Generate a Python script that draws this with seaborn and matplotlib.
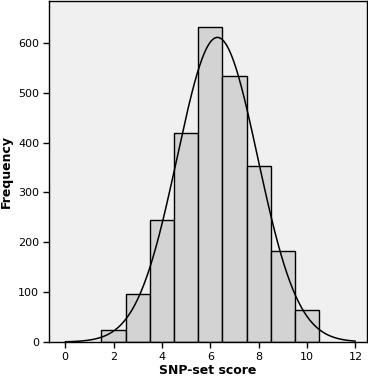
import numpy as np
import pandas as pd
import matplotlib
matplotlib.use("Agg")
import matplotlib.pyplot as plt
import seaborn as sns

# Data
bin_centers = [2, 3, 4, 5, 6, 7, 8, 9, 10]
counts = [25, 96, 244, 420, 631, 533, 354, 182, 65]
x_ticks = [0, 2, 4, 6, 8, 10, 12]
y_ticks = [0, 100, 200, 300, 400, 500, 600]

sns.set_theme(style="white")
plt.rcParams['font.family'] = ['DejaVu Sans']

df = pd.DataFrame({"score": bin_centers, "count": counts})

fig = plt.figure(figsize=(3.68, 3.82), dpi=100)
ax = fig.add_axes([49/368, 40/382, 318/368, 341/382])
ax.set_facecolor("#F0F0F0")

sns.histplot(data=df, x="score", weights="count", binwidth=1,
             binrange=(min(bin_centers) - 0.5, max(bin_centers) + 0.5), ax=ax,
             color="#D3D3D3", edgecolor="black", linewidth=1.0, alpha=1.0)

# Normal curve fitted to the binned data
N = float(np.sum(counts))
c = np.array(bin_centers, dtype=float)
w = np.array(counts, dtype=float)
mu = np.sum(c * w) / N
sd = np.sqrt(np.sum(w * (c - mu) ** 2) / (N - 1))
xs = np.linspace(0, 12, 400)
ys = N * 1.0 / (sd * np.sqrt(2 * np.pi)) * np.exp(-0.5 * ((xs - mu) / sd) ** 2)
sns.lineplot(x=xs, y=ys, ax=ax, color="black", linewidth=1.1)

ax.set_xlim(-0.67, 12.48)
ax.set_ylim(0, 684)
ax.set_xticks(x_ticks)
ax.set_yticks(y_ticks)
ax.tick_params(axis="both", direction="out", length=4, width=1, color="black",
               labelsize=8, labelcolor="black", pad=3, bottom=True, left=True)
for s in ax.spines.values():
    s.set_color("black")
    s.set_linewidth(1.0)
ax.set_xlabel("SNP-set score", fontsize=9, fontweight="bold", labelpad=2, color="black")
ax.set_ylabel("Frequency", fontsize=9, fontweight="bold", labelpad=4, color="black")

fig.savefig("out.png", dpi=100)
